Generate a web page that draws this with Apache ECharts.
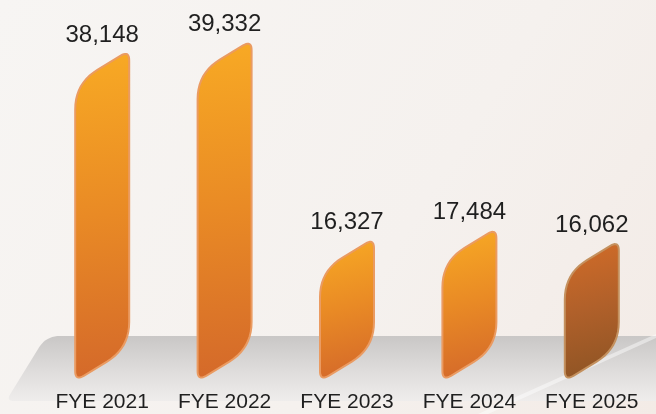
<!DOCTYPE html>
<html>
<head>
<meta charset="utf-8">
<script src="https://cdn.jsdelivr.net/npm/echarts@6/dist/echarts.min.js"></script>
<style>
  html, body { margin: 0; padding: 0; background: #f6f3f1; }
  #chart { width: 656px; height: 414px; }
</style>
</head>
<body>
<div id="chart"></div>
<script>
// data
var years = ['FYE 2021', 'FYE 2022', 'FYE 2023', 'FYE 2024', 'FYE 2025'];
var totals = [38148, 39332, 16327, 17484, 16062];

// fills: the last bar is brown, the rest orange
var orangeFill = ['#f8aa24', '#e98a25', '#d4692a'];
var brownFill = ['#d26c28', '#b0602a', '#8e5424'];

// polygon with rounded corners, sampled as points (r per corner)
function roundedPoints(pts, radii) {
    var n = pts.length, out = [];
    for (var i = 0; i < n; i++) {
        var p = pts[i], a = pts[(i - 1 + n) % n], b = pts[(i + 1) % n];
        var r = radii[i];
        var la = Math.hypot(a[0] - p[0], a[1] - p[1]);
        var lb = Math.hypot(b[0] - p[0], b[1] - p[1]);
        var ra = Math.min(r, la / 2), rb = Math.min(r, lb / 2);
        var p1 = [p[0] + (a[0] - p[0]) * ra / la, p[1] + (a[1] - p[1]) * ra / la];
        var p2 = [p[0] + (b[0] - p[0]) * rb / lb, p[1] + (b[1] - p[1]) * rb / lb];
        for (var k = 0; k <= 10; k++) {
            var t = k / 10, u = 1 - t;
            out.push([
                u * u * p1[0] + 2 * u * t * p[0] + t * t * p2[0],
                u * u * p1[1] + 2 * u * t * p[1] + t * t * p2[1]
            ]);
        }
    }
    return out;
}

var chart = echarts.init(document.getElementById('chart'));

var option = {
    animation: false,
    backgroundColor: 'transparent',
    graphic: [
        {
            type: 'rect', z: -20, silent: true,
            shape: { x: 0, y: 0, width: 656, height: 414 },
            style: {
                fill: new echarts.graphic.LinearGradient(0, 0, 1, 1, [
                    { offset: 0, color: '#f7f5f3' },
                    { offset: 0.6, color: '#f5f1ee' },
                    { offset: 1, color: '#f3ebe6' }
                ])
            }
        },
        {
            // grey platform under the bars
            type: 'polygon', z: -10, silent: true,
            shape: { points: roundedPoints([[46, 336], [680, 336], [680, 401], [6, 401]], [14, 0.01, 0.01, 8]) },
            style: {
                fill: new echarts.graphic.LinearGradient(0, 0, 0, 1, [
                    { offset: 0, color: '#c9c7c6' },
                    { offset: 0.5, color: '#dddbda' },
                    { offset: 1, color: '#efedec' }
                ])
            }
        },
        {
            type: 'polygon', z: -5, silent: true,
            shape: { points: [[478, 414], [656, 334], [656, 338], [488, 414]] },
            style: { fill: 'rgba(255,255,255,0.45)' }
        }
    ],
    grid: { left: 41, right: 3, top: 34.5, bottom: 35 },
    xAxis: {
        type: 'category',
        data: years,
        axisLine: { show: false },
        axisTick: { show: false },
        axisLabel: {
            margin: 13,
            fontFamily: 'Liberation Sans, Arial, sans-serif',
            fontSize: 21,
            color: '#1f1f1f'
        }
    },
    yAxis: {
        type: 'value',
        min: 0,
        max: 40000,
        show: false
    },
    series: [
        {
            type: 'custom',
            z: 5,
            data: totals.map(function (v, i) { return [i, v]; }),
            renderItem: function (params, api) {
                var top = api.coord([api.value(0), api.value(1)]);
                var base = api.coord([api.value(0), 0]);
                var w = 54;
                var xl = top[0] - w / 2, xr = top[0] + w / 2;
                var s = 33;
                var pts = [[xr, top[1]], [xr, base[1] + 2 - s], [xl, base[1] + 2], [xl, top[1] + s]];
                var c = params.dataIndex === 4 ? brownFill : orangeFill;
                return {
                    type: 'polygon',
                    shape: { points: roundedPoints(pts, [10, 26, 10, 26]) },
                    style: {
                        fill: new echarts.graphic.LinearGradient(0, 0, 0.6, 1, [
                            { offset: 0, color: c[0] },
                            { offset: 0.5, color: c[1] },
                            { offset: 1, color: c[2] }
                        ]),
                        stroke: params.dataIndex === 4 ? '#c4915f' : '#ea9b62',
                        lineWidth: 2
                    },
                    textContent: {
                        style: {
                            text: api.value(1).toLocaleString('en-US'),
                            fontFamily: 'Liberation Sans, Arial, sans-serif',
                            fontSize: 24,
                            fill: '#1f1f1f'
                        }
                    },
                    textConfig: { position: 'top', distance: 6 }
                };
            }
        }
    ]
};

chart.setOption(option);
</script>
</body>
</html>
